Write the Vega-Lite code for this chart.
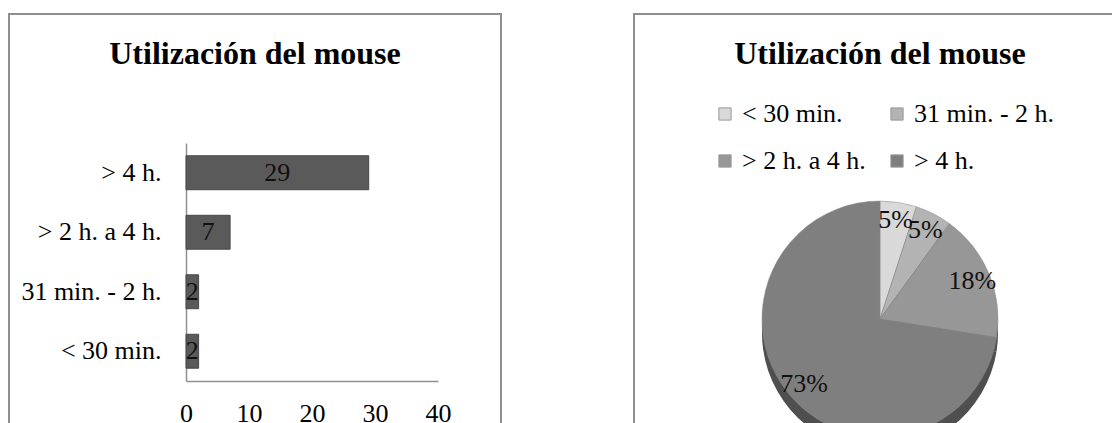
{
  "$schema": "https://vega.github.io/schema/vega-lite/v6.json",
  "padding": {"left": 8, "top": 13, "right": 0, "bottom": 0},
  "background": "white",
  "bounds": "flush",
  "spacing": 133,
  "resolve": {"scale": {"color": "independent"}, "legend": {"color": "independent"}},
  "config": {
    "view": {"stroke": "#8f8f8f", "strokeWidth": 2},
    "font": "Liberation Serif"
  },
  "datasets": {
    "mouse": [
      {"categoria": "< 30 min.", "cantidad": 2, "orden": 1, "porcentaje": "5%"},
      {"categoria": "31 min. - 2 h.", "cantidad": 2, "orden": 2, "porcentaje": "5%"},
      {"categoria": "> 2 h. a 4 h.", "cantidad": 7, "orden": 3, "porcentaje": "18%"},
      {"categoria": "> 4 h.", "cantidad": 29, "orden": 4, "porcentaje": "73%"}
    ]
  },
  "hconcat": [
    {
      "width": 492,
      "height": 610,
      "title": {"text": "Utilización del mouse", "font": "Liberation Serif", "fontSize": 32, "fontWeight": "bold", "color": "#000000", "anchor": "middle", "offset": -82, "baseline": "alphabetic"},
      "data": {"name": "mouse"},
      "layer": [
        {
          "mark": {"type": "bar", "color": "#5a5a5a", "stroke": "#474747", "strokeWidth": 1},
          "encoding": {
            "y": {
              "field": "categoria", "type": "nominal",
              "sort": ["> 4 h.", "> 2 h. a 4 h.", "31 min. - 2 h.", "< 30 min."],
              "scale": {"range": [129, 367], "paddingInner": 0.43, "paddingOuter": 0.215},
              "axis": {"orient": "left", "offset": -177, "title": null, "ticks": false, "grid": false, "domain": true, "domainColor": "#8f8f8f", "domainWidth": 1.5, "labelFont": "Liberation Serif", "labelFontSize": 26, "labelColor": "#000000", "labelPadding": 25, "labelLimit": 400}
            },
            "x": {
              "field": "cantidad", "type": "quantitative",
              "scale": {"domain": [0, 40], "range": [177, 429], "nice": false},
              "axis": {"orient": "bottom", "offset": -243, "title": null, "values": [0, 10, 20, 30, 40], "ticks": false, "grid": false, "domain": true, "domainColor": "#8f8f8f", "domainWidth": 1.5, "labelFont": "Liberation Serif", "labelFontSize": 26, "labelColor": "#000000", "labelPadding": 19, "labelFlush": false, "labelOverlap": false}
            }
          }
        },
        {
          "mark": {"type": "text", "font": "Liberation Serif", "fontSize": 26, "color": "#111111", "baseline": "middle", "align": "center"},
          "encoding": {
            "y": {"field": "categoria", "type": "nominal", "sort": ["> 4 h.", "> 2 h. a 4 h.", "31 min. - 2 h.", "< 30 min."]},
            "x": {"field": "cantidad", "type": "quantitative", "stack": "zero", "bandPosition": 0.5},
            "text": {"field": "cantidad", "type": "quantitative"}
          }
        }
      ]
    },
    {
      "width": 492,
      "height": 610,
      "view": {"stroke": "#8f8f8f", "strokeWidth": 2},
      "title": {"text": "Utilización del mouse", "font": "Liberation Serif", "fontSize": 32, "fontWeight": "bold", "color": "#000000", "anchor": "middle", "offset": -82, "baseline": "alphabetic"},
      "data": {"name": "mouse"},
      "layer": [
        {
          "mark": {"type": "arc", "outerRadius": 118, "yOffset": 14, "color": "#4f4f4f"},
          "encoding": {
            "theta": {"field": "cantidad", "type": "quantitative", "stack": true},
            "order": {"field": "orden", "type": "quantitative"}
          }
        },
        {
          "mark": {"type": "arc", "outerRadius": 118, "stroke": "#8a8a8a", "strokeWidth": 0.5},
          "encoding": {
            "theta": {"field": "cantidad", "type": "quantitative", "stack": true},
            "order": {"field": "orden", "type": "quantitative"},
            "color": {
              "field": "categoria", "type": "nominal",
              "scale": {"domain": ["< 30 min.", "31 min. - 2 h.", "> 2 h. a 4 h.", "> 4 h."], "range": ["#d9d9d9", "#b3b3b3", "#979797", "#7f7f7f"]},
              "legend": {"orient": "none", "legendX": 78, "legendY": 87, "direction": "horizontal", "columns": 2, "title": null, "symbolType": "square", "symbolSize": 150, "symbolStrokeColor": "#999999", "symbolStrokeWidth": 1, "labelFont": "Liberation Serif", "labelFontSize": 26, "labelColor": "#000000", "labelOffset": 4, "columnPadding": 18, "rowPadding": 21, "labelLimit": 400}
            }
          }
        },
        {
          "mark": {"type": "text", "radius": 100, "font": "Liberation Serif", "fontSize": 26, "color": "#111111", "baseline": "middle", "align": "center"},
          "encoding": {
            "theta": {"field": "cantidad", "type": "quantitative", "stack": true},
            "order": {"field": "orden", "type": "quantitative"},
            "text": {"field": "porcentaje", "type": "nominal"}
          }
        }
      ]
    }
  ]
}
